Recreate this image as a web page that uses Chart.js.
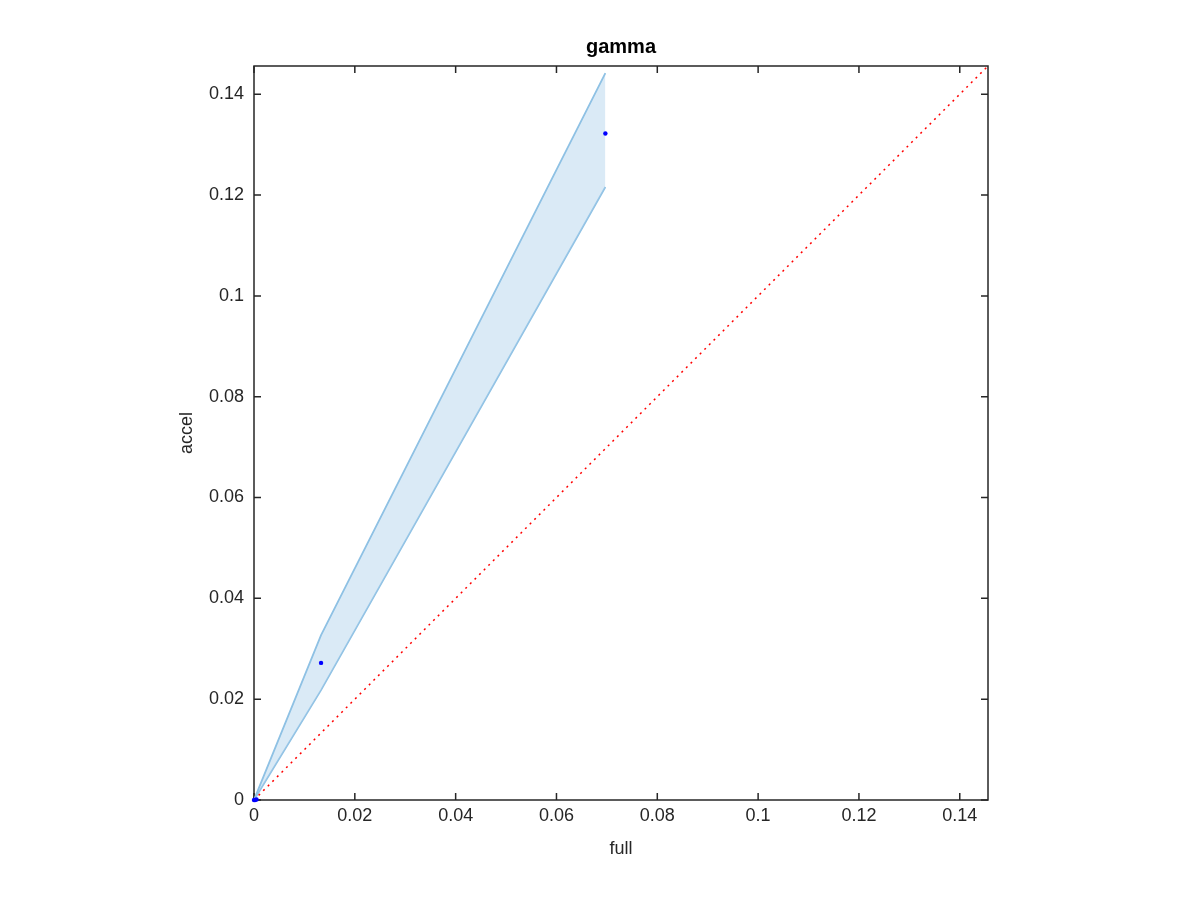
<!DOCTYPE html>
<html>
<head>
<meta charset="utf-8">
<title>gamma</title>
<script src="https://cdn.jsdelivr.net/npm/chart.js@4/dist/chart.umd.min.js"></script>
<style>
    html, body { margin: 0; padding: 0; background: #fff; }
    #wrap { width: 1200px; height: 900px; }
</style>
</head>
<body>
<div id="wrap"><canvas id="chart" width="1200" height="900"></canvas></div>
<script>
// axis range (same on both axes)
const axisMin = 0;
const axisMax = 0.1456;
const tickStep = 0.02;

// estimates (blue dots)
const pointX = [0, 0.0002, 0.0005, 0.0133, 0.0697];
const pointY = [0, 0, 0.0001, 0.0272, 0.1322];

// confidence band edges
const bandX = [0, 0.0133, 0.0697];
const bandUpper = [0, 0.0327, 0.1442];
const bandLower = [0, 0.0218, 0.1216];

// identity line
const diagX = [axisMin, axisMax];
const diagY = [axisMin, axisMax];

const chartTitle = 'gamma';

const toXY = (xs, ys) => xs.map((x, i) => ({ x: x, y: ys[i] }));

const fontFamily = '"Liberation Sans", Arial, Helvetica, sans-serif';
const axisColor = '#262626';

// box, inward ticks on all four sides, and the title centred over the plot
const frameTicks = {
    id: 'frameTicks',
    beforeDatasetsDraw(chart) {
        const { ctx, chartArea: a, scales } = chart;
        const len = 7;
        ctx.save();
        ctx.strokeStyle = axisColor;
        ctx.lineWidth = 1.5;
        ctx.strokeRect(a.left, a.top, a.right - a.left, a.bottom - a.top);
        ctx.beginPath();
        scales.x.ticks.forEach(t => {
            const px = scales.x.getPixelForValue(t.value);
            ctx.moveTo(px, a.bottom); ctx.lineTo(px, a.bottom - len);
            ctx.moveTo(px, a.top); ctx.lineTo(px, a.top + len);
        });
        scales.y.ticks.forEach(t => {
            const py = scales.y.getPixelForValue(t.value);
            ctx.moveTo(a.left, py); ctx.lineTo(a.left + len, py);
            ctx.moveTo(a.right, py); ctx.lineTo(a.right - len, py);
        });
        ctx.stroke();

        ctx.fillStyle = '#000';
        ctx.font = 'bold 20px ' + fontFamily;
        ctx.textAlign = 'center';
        ctx.textBaseline = 'middle';
        ctx.fillText(chartTitle, (a.left + a.right) / 2, a.top - 19);
        ctx.restore();
    }
};

const tickLabel = v => String(Number(v.toFixed(2)));

new Chart(document.getElementById('chart').getContext('2d'), {
    type: 'scatter',
    data: {
        datasets: [
            {
                label: 'upper',
                type: 'line',
                data: toXY(bandX, bandUpper),
                borderColor: '#8ec1e4',
                borderWidth: 1.8,
                backgroundColor: 'rgba(174, 208, 234, 0.45)',
                fill: '+1',
                pointRadius: 0,
                tension: 0,
                order: 3
            },
            {
                label: 'lower',
                type: 'line',
                data: toXY(bandX, bandLower),
                borderColor: '#8ec1e4',
                borderWidth: 1.8,
                fill: false,
                pointRadius: 0,
                tension: 0,
                order: 3
            },
            {
                label: 'identity',
                type: 'line',
                data: toXY(diagX, diagY),
                borderColor: '#ff0000',
                borderWidth: 1.5,
                borderDash: [2, 4.5],
                fill: false,
                pointRadius: 0,
                order: 2
            },
            {
                label: 'estimate',
                data: toXY(pointX, pointY),
                backgroundColor: '#0000ff',
                borderColor: '#0000ff',
                pointStyle: 'circle',
                pointRadius: 2.2,
                borderWidth: 0,
                clip: false,
                order: 1
            }
        ]
    },
    options: {
        responsive: false,
        animation: false,
        layout: { padding: { left: 174, right: 212, top: 66, bottom: 40 } },
        plugins: {
            legend: { display: false },
            tooltip: { enabled: false },
            title: { display: false }
        },
        scales: {
            x: {
                type: 'linear',
                min: axisMin,
                max: axisMax,
                grid: { display: false, drawTicks: false },
                border: { display: false },
                afterFit(scale) { scale.height = 60; },
                ticks: {
                    stepSize: tickStep,
                    includeBounds: false,
                    maxRotation: 0,
                    padding: 5,
                    color: axisColor,
                    font: { family: fontFamily, size: 18 },
                    callback: tickLabel
                },
                title: {
                    display: true,
                    text: 'full',
                    color: axisColor,
                    font: { family: fontFamily, size: 18 },
                    padding: { top: 4, bottom: 0 }
                }
            },
            y: {
                type: 'linear',
                min: axisMin,
                max: axisMax,
                grid: { display: false, drawTicks: false },
                border: { display: false },
                afterFit(scale) { scale.width = 80; },
                ticks: {
                    stepSize: tickStep,
                    includeBounds: false,
                    padding: 10,
                    color: axisColor,
                    font: { family: fontFamily, size: 18 },
                    callback: tickLabel
                },
                title: {
                    display: true,
                    text: 'accel',
                    color: axisColor,
                    font: { family: fontFamily, size: 18 },
                    padding: { top: 2, bottom: 0 }
                }
            }
        }
    },
    plugins: [frameTicks]
});
</script>
</body>
</html>
